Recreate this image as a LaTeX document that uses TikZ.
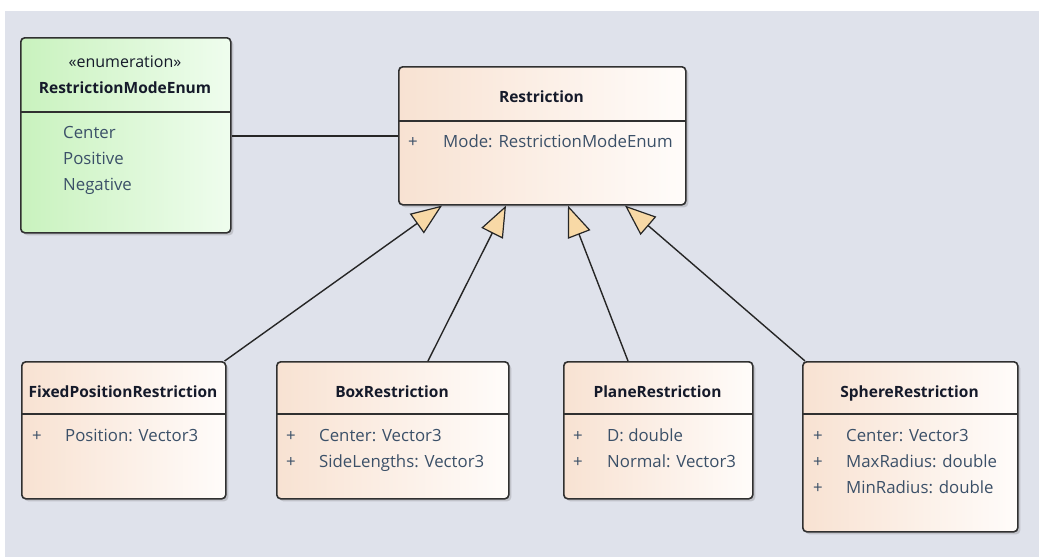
\documentclass[tikz,border=0pt]{standalone}
\usepackage{fontspec}
\setmainfont{Open Sans}
\usetikzlibrary{arrows.meta,calc,shadows}
\definecolor{bgc}{HTML}{DFE2EB}
\definecolor{clsL}{HTML}{F8E2D2}
\definecolor{clsR}{HTML}{FFFCFA}
\definecolor{enL}{HTML}{C9F2BE}
\definecolor{enR}{HTML}{EFFDEE}
\definecolor{edge}{HTML}{303030}
\definecolor{attr}{HTML}{3B5068}
\definecolor{ttl}{HTML}{151A2A}
\definecolor{tipfill}{HTML}{F8D9A6}
\tikzset{
  x=1pt,y=-1pt,
  cls/.style={draw=edge, line width=1.6pt, rounded corners=4pt, anchor=north west,
    left color=clsL, right color=clsR, inner sep=0pt,
    drop shadow={shadow xshift=2.5pt, shadow yshift=-2.5pt, opacity=0.25, fill=black!60}},
  enumcls/.style={cls, left color=enL, right color=enR},
  sep/.style={draw=edge, line width=1.6pt},
  title/.style={font=\fontsize{15.5}{19}\selectfont\bfseries, text=ttl, anchor=mid, inner sep=0pt},
  stereo/.style={font=\fontsize{16}{19}\selectfont, text=ttl, anchor=mid, inner sep=0pt},
  att/.style={font=\fontsize{16.8}{19}\selectfont, text=attr, anchor=mid west, inner sep=0pt},
  vis/.style={font=\fontsize{16.8}{19}\selectfont, text=attr, anchor=mid west, inner sep=0pt},
  gen/.style={draw=black!85, line width=1.4pt, -{Triangle[length=31pt,width=24pt,fill=tipfill,line width=1.2pt]}},
  assoc/.style={draw=black!85, line width=1.4pt},
}
\begin{document}
\begin{tikzpicture}
\useasboundingbox (0,0) rectangle (1039,557);
\fill[white] (0,0) rectangle (1039,557);
\fill[bgc] (5,11) rectangle (1039,557);

% Enumeration
\node[enumcls, minimum width=210pt, minimum height=195pt] (en) at (20,37) {};
\draw[sep] (20,112) -- (230,112);
\node[stereo] (ens) at (125,65) {«enumeration»};
\node[title] (ent) at (125,91) {RestrictionModeEnum};
\node[att] (en1) at (63,136) {Center};
\node[att] (en2) at (63,162) {Positive};
\node[att] (en3) at (63,188) {Negative};

% Restriction
\node[cls, minimum width=287pt, minimum height=138pt] (res) at (398,66) {};
\draw[sep] (398,121) -- (685,121);
\node[title] (rest) at (541.5,100) {Restriction};
\node[vis] (resv) at (408,145) {+};
\node[att] (resa) at (443,145) {Mode: RestrictionModeEnum};

% FixedPositionRestriction
\node[cls, minimum width=204pt, minimum height=137pt] (fix) at (21,361) {};
\draw[sep] (21,414) -- (225,414);
\node[title] (fixt) at (123,395) {FixedPositionRestriction};
\node[vis] (fixv) at (32,439) {+};
\node[att] (fixa) at (65,439) {Position: Vector3};

% BoxRestriction
\node[cls, minimum width=232pt, minimum height=137pt] (box) at (276,361) {};
\draw[sep] (276,414) -- (508,414);
\node[title] (boxt) at (392,395) {BoxRestriction};
\node[vis] (boxv1) at (286,439) {+};
\node[att] (boxa1) at (319,439) {Center: Vector3};
\node[vis] (boxv2) at (286,465) {+};
\node[att] (boxa2) at (319,465) {SideLengths: Vector3};

% PlaneRestriction
\node[cls, minimum width=189pt, minimum height=137pt] (pln) at (563,361) {};
\draw[sep] (563,414) -- (752,414);
\node[title] (plnt) at (657.5,395) {PlaneRestriction};
\node[vis] (plnv1) at (573,439) {+};
\node[att] (plna1) at (607,439) {D: double};
\node[vis] (plnv2) at (573,465) {+};
\node[att] (plna2) at (607,465) {Normal: Vector3};

% SphereRestriction
\node[cls, minimum width=215pt, minimum height=170pt] (sph) at (802,361) {};
\draw[sep] (802,414) -- (1017,414);
\node[title] (spht) at (909.5,395) {SphereRestriction};
\node[vis] (sphv1) at (813,439) {+};
\node[att] (spha1) at (846,439) {Center: Vector3};
\node[vis] (sphv2) at (813,465) {+};
\node[att] (spha2) at (846,465) {MaxRadius: double};
\node[vis] (sphv3) at (813,491) {+};
\node[att] (spha3) at (846,491) {MinRadius: double};

% association
\draw[assoc] (en.east |- 0,136) coordinate (a1) -- (res.west |- a1);

% generalizations
\draw[gen] ($(fix.north east)+(-2,0)$) -- ($(res.south west)+(44,0)$);
\draw[gen] ($(box.north west)+(152,0)$) -- ($(res.south west)+(108,0)$);
\draw[gen] ($(pln.north west)+(65,0)$) -- ($(res.south west)+(170,0)$);
\draw[gen] ($(sph.north west)+(3,0)$) -- ($(res.south west)+(227,0)$);
\end{tikzpicture}
\end{document}
